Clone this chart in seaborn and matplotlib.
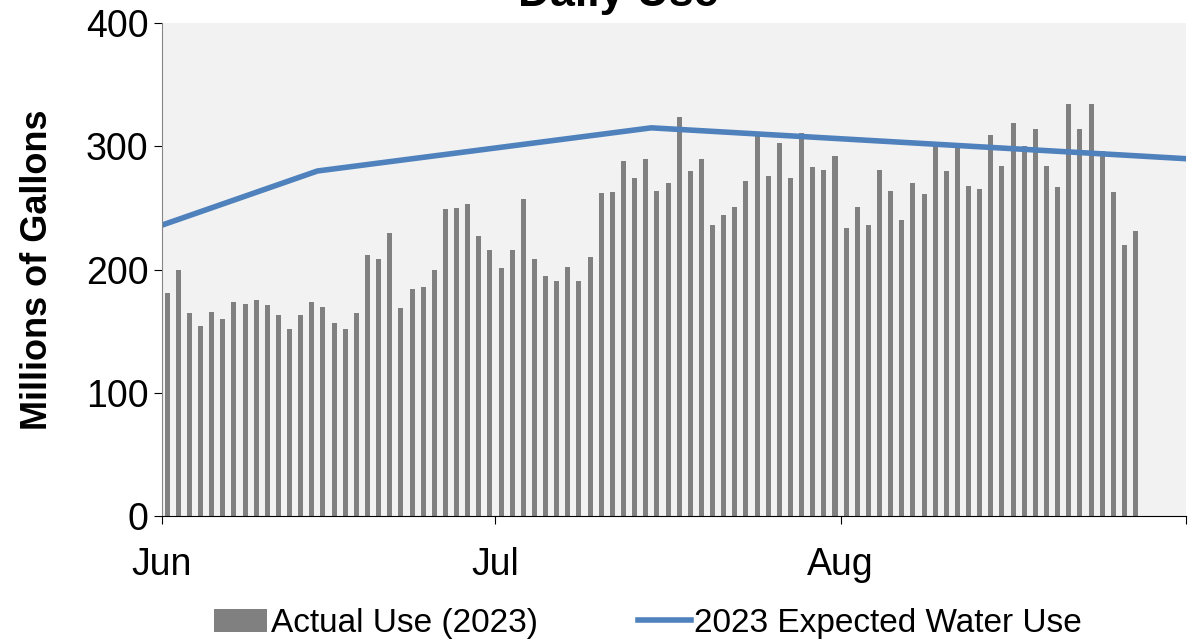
import matplotlib
matplotlib.use("Agg")
import matplotlib.pyplot as plt
import seaborn as sns
import pandas as pd

# Daily actual use (millions of gallons), Jun 1 .. Aug 27
jun_use = [181, 200, 165, 154, 166, 160, 174, 172, 175, 171, 163, 152, 163, 174, 170,
           157, 152, 165, 212, 209, 230, 169, 184, 186, 200, 249, 250, 253, 227, 216]
jul_use = [201, 216, 257, 209, 195, 191, 202, 191, 210, 262, 263, 288, 274, 290, 264, 270,
           324, 280, 290, 236, 244, 251, 272, 309, 276, 303, 274, 311, 283, 281, 292]
aug_use = [234, 251, 236, 281, 264, 240, 270, 261, 301, 280, 300, 268, 265, 309, 284, 319,
           300, 314, 284, 267, 334, 314, 334, 296, 263, 220, 231]

# Expected use line: day offset from Jun 1 -> value
exp_days = [0, 14, 44, 92]
exp_vals = [236, 280, 315, 290]

month_ticks = [0, 30, 61, 92]
month_labels = ["Jun", "Jul", "Aug", ""]

use = jun_use + jul_use + aug_use
df = pd.DataFrame({"day": range(len(use)), "use": use})

plt.rcParams["font.family"] = ["Liberation Sans", "DejaVu Sans"]
fig = plt.figure(figsize=(11.88, 6.39), dpi=100)
ax = fig.add_axes([0.136, 0.192, 0.862, 0.772])
ax.set_facecolor("#f2f2f2")

ax.bar(df["day"] + 0.5, df["use"], width=0.45, color="#808080", label="Actual Use (2023)")
sns.lineplot(x=exp_days, y=exp_vals, ax=ax, color="#4f81bd", linewidth=4,
             label="2023 Expected Water Use")

ax.set_xlim(0, 92)
ax.set_ylim(0, 400)
ax.set_yticks([0, 100, 200, 300, 400])
ax.set_xticks(month_ticks)
ax.set_xticklabels(month_labels)
ax.tick_params(axis="both", labelsize=27, direction="out", length=6)
ax.tick_params(axis="x", pad=16)
for s in ["top", "right"]:
    ax.spines[s].set_visible(False)
ax.spines["left"].set_color("#868686")
ax.set_ylabel("Millions of Gallons", fontsize=26, fontweight="bold", labelpad=22)
fig.text(0.52, 1.008, "Daily Use", fontsize=32, fontweight="bold", ha="center", va="center")

h, l = ax.get_legend_handles_labels()
ax.legend(h[::-1], l[::-1], loc="upper center", bbox_to_anchor=(0.475, -0.125), ncol=2,
          frameon=False, fontsize=24, handlelength=1.6, columnspacing=3.0, handletextpad=0.1)

fig.savefig("out.png", dpi=100)
